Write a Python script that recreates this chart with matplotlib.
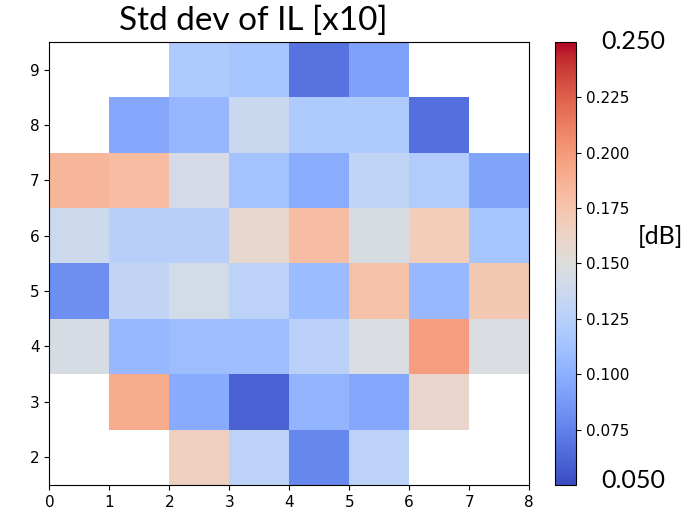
import numpy as np
import matplotlib.pyplot as plt

nan = np.nan

# std dev of IL per site, rows y=2..9, columns x=0..7
rows = [2, 3, 4, 5, 6, 7, 8, 9]
row_2 = [nan, nan, 0.165, 0.128, 0.078, 0.128, nan, nan]
row_3 = [nan, 0.190, 0.097, 0.060, 0.103, 0.095, 0.160, nan]
row_4 = [0.145, 0.106, 0.109, 0.109, 0.126, 0.147, 0.198, 0.147]
row_5 = [0.082, 0.131, 0.142, 0.128, 0.108, 0.177, 0.106, 0.172]
row_6 = [0.138, 0.125, 0.125, 0.158, 0.180, 0.146, 0.168, 0.115]
row_7 = [0.185, 0.180, 0.143, 0.113, 0.098, 0.130, 0.121, 0.093]
row_8 = [nan, 0.095, 0.105, 0.136, 0.120, 0.120, 0.066, nan]
row_9 = [nan, nan, 0.119, 0.115, 0.068, 0.092, nan, nan]

values = np.array([row_2, row_3, row_4, row_5, row_6, row_7, row_8, row_9])
x_edges = np.arange(0, 9)
y_edges = np.arange(1.5, 10.5)

big_font = ['Lato', 'DejaVu Sans']

fig = plt.figure(figsize=(6.92, 5.11), dpi=100)
ax = fig.add_axes([0.0715, 0.051, 0.693, 0.867])
cax = fig.add_axes([0.802, 0.051, 0.031, 0.867])

mesh = ax.pcolormesh(x_edges, y_edges, np.ma.masked_invalid(values),
                     cmap='coolwarm', vmin=0.05, vmax=0.25)
ax.set_xlim(0, 8)
ax.set_ylim(1.5, 9.5)
ax.set_xticks(range(0, 9))
ax.set_yticks(rows)
ax.tick_params(labelsize=11)

fig.text(0.366, 0.941, 'Std dev of IL [x10]', fontsize=24,
         family=big_font, ha='center', va='baseline')

cb = fig.colorbar(mesh, cax=cax)
cb.set_ticks([0.075, 0.1, 0.125, 0.15, 0.175, 0.2, 0.225])
cb.ax.set_yticklabels(['0.075', '0.100', '0.125', '0.150', '0.175', '0.200', '0.225'])
cb.ax.tick_params(labelsize=11)
cb.outline.set_linewidth(0.8)

cax.text(2.18, 1.0, '0.250', transform=cax.transAxes, fontsize=18,
         family=big_font, va='center', ha='left')
cax.text(2.18, 0.01, '0.050', transform=cax.transAxes, fontsize=18,
         family=big_font, va='center', ha='left')
cax.text(3.86, 0.56, '[dB]', transform=cax.transAxes, fontsize=18,
         family=big_font, va='center', ha='left')

fig.savefig('out.png', dpi=100)
